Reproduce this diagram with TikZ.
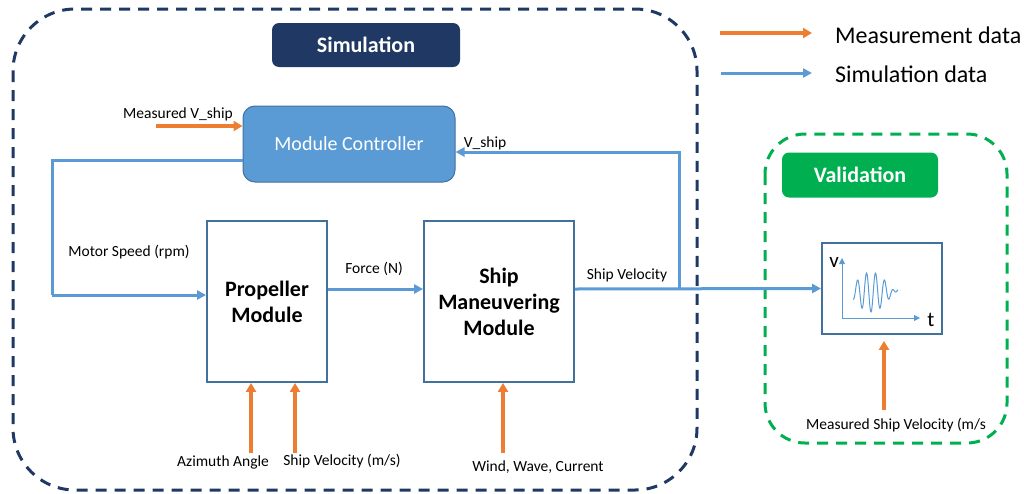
\documentclass[tikz,border=0pt]{standalone}
\usepackage{fontspec}
\setmainfont{Carlito}
\usetikzlibrary{arrows.meta}
\definecolor{navy}{HTML}{203864}
\definecolor{simblue}{HTML}{5B9BD5}
\definecolor{boxblue}{HTML}{41719C}
\definecolor{measorange}{HTML}{ED7D31}
\definecolor{valgreen}{HTML}{00B050}
\tikzset{
  sim/.style={draw=simblue, line width=3pt, -{Triangle[length=9pt,width=9pt]}},
  meas/.style={draw=measorange, line width=3.5pt, -{Triangle[length=9pt,width=10pt]}},
  module/.style={draw=boxblue, line width=1.8pt, fill=white, align=center,
    font=\fontsize{22}{26}\selectfont\bfseries},
  tag/.style={rounded corners=7pt, text=white, font=\fontsize{22}{26}\selectfont\bfseries},
  lbl/.style={font=\fontsize{15.5}{18}\selectfont, inner sep=0pt},
}
\begin{document}
\begin{tikzpicture}[x=1pt,y=-1pt]
  \useasboundingbox (0,0) rectangle (1024,493);
  % frames
  \draw[navy, line width=3pt, dash pattern=on 11pt off 8pt, rounded corners=62pt]
    (13,9) rectangle (697,490);
  \draw[valgreen, line width=3pt, dash pattern=on 11pt off 8pt, rounded corners=40pt]
    (765,134) rectangle (1007,443);
  \node[tag, fill=navy, minimum width=188pt, minimum height=44pt] (simtag) at (366,45) {Simulation};
  \node[tag, fill=valgreen, minimum width=156pt, minimum height=45pt] (valtag) at (860,175) {Validation};
  % legend
  \coordinate (lm1) at (720,33);
  \coordinate (lm2) at (812,33);
  \coordinate (ls1) at (721,73);
  \coordinate (ls2) at (812,73);
  \draw[meas] (lm1) -- (lm2);
  \draw[sim] (ls1) -- (ls2);
  \node[anchor=west, font=\fontsize{24}{27}\selectfont, inner sep=0pt] (legm) at (835,35) {Measurement data};
  \node[anchor=west, font=\fontsize{24}{27}\selectfont, inner sep=0pt] (legs) at (835,74) {Simulation data};
  % blocks
  \node[fill=simblue, draw=boxblue, line width=1pt, rounded corners=12pt, text=white,
    minimum width=212pt, minimum height=76pt, font=\fontsize{20}{24}\selectfont] (ctrl) at (349,144) {Module Controller};
  \node[module, minimum width=120pt, minimum height=161pt] (prop) at (267,301.5) {Propeller\\Module};
  \node[module, minimum width=150pt, minimum height=161pt] (ship) at (499,301.5) {Ship\\Maneuvering\\Module};
  \node[draw=boxblue, line width=1.8pt, minimum width=120pt, minimum height=91pt] (graph) at (882,288.5) {};
  % plot in the validation box
  \coordinate (o) at (842,318);
  \coordinate (vtop) at (842,258);
  \coordinate (tend) at (920,318);
  \begin{scope}[simblue, line width=0.8pt, -{Triangle[length=6pt,width=6pt]}]
    \draw (o) -- (vtop);
    \draw (o) -- (tend);
  \end{scope}
  \draw[simblue, line width=1pt] plot[domain=0:45, samples=150, smooth]
    ({853+\x},{292+(7+13*sin(\x*5))*cos(\x*40)});
  \node[font=\fontsize{21}{24}\selectfont, inner sep=0pt] (vlbl) at (834,262) {v};
  \node[font=\fontsize{21}{24}\selectfont, inner sep=0pt] (tlbl) at (931,320) {t};
  % labels
  \node[lbl] (mvsl) at (178,114) {Measured V\_ship};
  \node[lbl] (vsl) at (485,143) {V\_ship};
  \node[lbl] (msl) at (129,252) {Motor Speed (rpm)};
  \node[lbl] (fl) at (374,269) {Force (N)};
  \node[lbl] (svl) at (627,275) {Ship Velocity};
  \node[lbl] (azl) at (223,462) {Azimuth Angle};
  \node[lbl] (shvl) at (342,461) {Ship Velocity (m/s)};
  \node[lbl] (wwl) at (538,467) {Wind, Wave, Current};
  \node[lbl] (msvl) at (896,425) {Measured Ship Velocity (m/s};
  % connectors
  \coordinate (mvs) at (156,126);
  \coordinate (c1) at (52,160);
  \coordinate (c2) at (52,295);
  \coordinate (junc) at (679,289);
  \coordinate (c3) at (679,152);
  \coordinate (az) at (251,453);
  \coordinate (shv) at (295,453);
  \coordinate (ww) at (503,453);
  \coordinate (msv) at (884,410);
  \begin{scope}[sim]
    \draw[-] (ctrl.west |- c1) -- (c1) -- (c2);
    \draw (c2) -- (prop.west |- c2);
    \draw (prop.east |- junc) -- (ship.west |- junc);
    \draw (ship.east |- junc) -- (graph.west);
    \draw (junc) -- (c3) -- (ctrl.east |- c3);
  \end{scope}
  \begin{scope}[meas]
    \draw (mvs) -- (ctrl.west |- mvs);
    \draw (az) -- (az |- prop.south);
    \draw (shv) -- (shv |- prop.south);
    \draw (ww) -- (ww |- ship.south);
    \draw (msv) -- ([yshift=-6pt]msv |- graph.south);
  \end{scope}
\end{tikzpicture}
\end{document}
